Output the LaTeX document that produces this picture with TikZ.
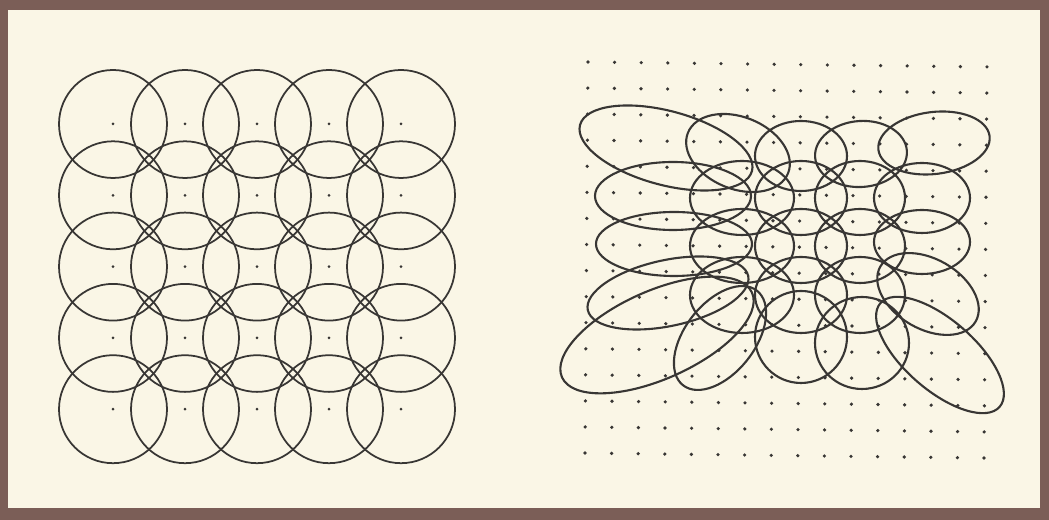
\documentclass[tikz,border=0pt]{standalone}
\definecolor{frame}{HTML}{7B5E57}
\definecolor{paper}{HTML}{FAF6E6}
\definecolor{ink}{HTML}{383634}
\begin{document}
\begin{tikzpicture}[x=0.1mm,y=-0.1mm,
  ring/.style={draw=ink,line width=0.5pt},
  oval/.style={draw=ink,line width=0.6pt},
  dot/.style={fill=ink}]
  \fill[frame] (0,0) rectangle (1049,520);
  \fill[paper] (8,10) rectangle (1040,508);
  \useasboundingbox (0,0) rectangle (1049,520);

  % left: 5x5 equal circles
  \foreach \i in {0,...,4}
    \foreach \j in {0,...,4}{
      \draw[ring] (113+72*\i,124+71.3*\j) circle [radius=54];
      \fill[dot] (113+72*\i,124+71.3*\j) circle [radius=1.5];
    }

  % right: dot grid
  \foreach \i in {0,...,15}
    \foreach \j in {0,...,15}
      \fill[dot] (588+26.6*\i-0.2*\j,62+0.33*\i+26.07*\j) circle [radius=1.8];

  % right: distorted ellipses (cx/cy/rx/ry/angle)
  \foreach \cx/\cy/\rx/\ry/\ang in {
      666/148/89/37/-15, 738/153/54/36/-22, 801/156/46/35/0, 861/154/46/33/4, 934/143/56/31/7,
      673/196/78/34/0, 742/198/52/37/0, 801/198/46/37/0, 860/198/45/37/0, 922/198/48/35/0,
      674/244/78/32/0, 742/246/52/37/0, 801/246/46/37/0, 860/246/45/37/0, 922/242/48/32/0,
      668/293/82/33/12, 742/295/52/38/0, 801/295/46/38/0, 860/295/45/38/0, 928/294/55/35/-30,
      657/335/104/44/24, 720/338/60/35/52, 801/337/46/46/0, 862/343/47/46/0, 940/355/79/35/-41}
    \draw[oval,shift={(\cx,\cy)},rotate=\ang] (0,0) ellipse [x radius=\rx, y radius=\ry];
\end{tikzpicture}
\end{document}
